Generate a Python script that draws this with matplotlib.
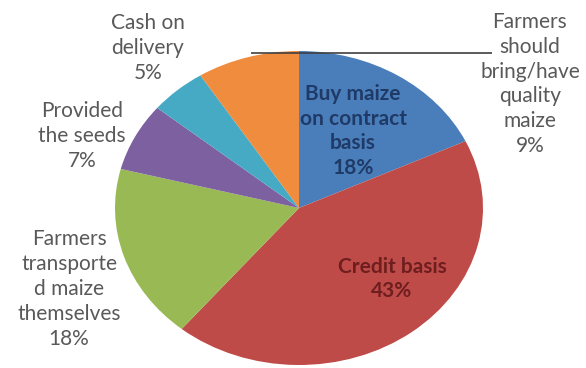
import matplotlib.pyplot as plt

# Share of respondents by marketing arrangement (%), clockwise from 12 o'clock
labels = [
    "Buy maize\non contract\nbasis",
    "Credit basis",
    "Farmers\ntransporte\nd maize\nthemselves",
    "Provided\nthe seeds",
    "Cash on\ndelivery",
    "Farmers\nshould\nbring/have\nquality\nmaize",
]
shares = [18, 43, 18, 7, 5, 9]
colors = ["#4A7EBB", "#BE4B48", "#98B954", "#7D60A0", "#46AAC5", "#F08C3E"]

# label anchor (pixel x, pixel y from top) and text colour per slice
label_pos = [(353, 131), (392, 279), (69, 289), (82, 136), (148, 48), (530, 84)]
label_color = ["#1F3A66", "#6E1E1E", "#595959", "#595959", "#595959", "#595959"]

W, H = 586, 368
plt.rcParams["font.family"] = ["Lato", "DejaVu Sans"]

fig = plt.figure(figsize=(W / 100, H / 100), dpi=100)
fig.patch.set_facecolor("white")

# the pie is drawn slightly squashed, as an ellipse 368 x 314 px
ax = fig.add_axes([115 / W, 3 / H, 368 / W, 314 / H])
ax.pie(shares, colors=colors, startangle=90, counterclock=False, radius=1,
       wedgeprops=dict(linewidth=0))
ax.set_xlim(-1, 1)
ax.set_ylim(-1, 1)
ax.set_aspect("auto")
ax.axis("off")

# leader line from the orange slice out to its label
ax.plot([-0.26, 1.05], [0.985, 0.985], color="#404040", lw=1.2,
        solid_capstyle="butt", clip_on=False)

for text, val, (px, py), col in zip(labels, shares, label_pos, label_color):
    fig.text(px / W, 1 - py / H, f"{text}\n{val}%", ha="center", va="center",
             color=col, fontsize=15, linespacing=1.3,
             fontweight="bold" if col != "#595959" else "normal")

fig.savefig("out.png", dpi=100)
